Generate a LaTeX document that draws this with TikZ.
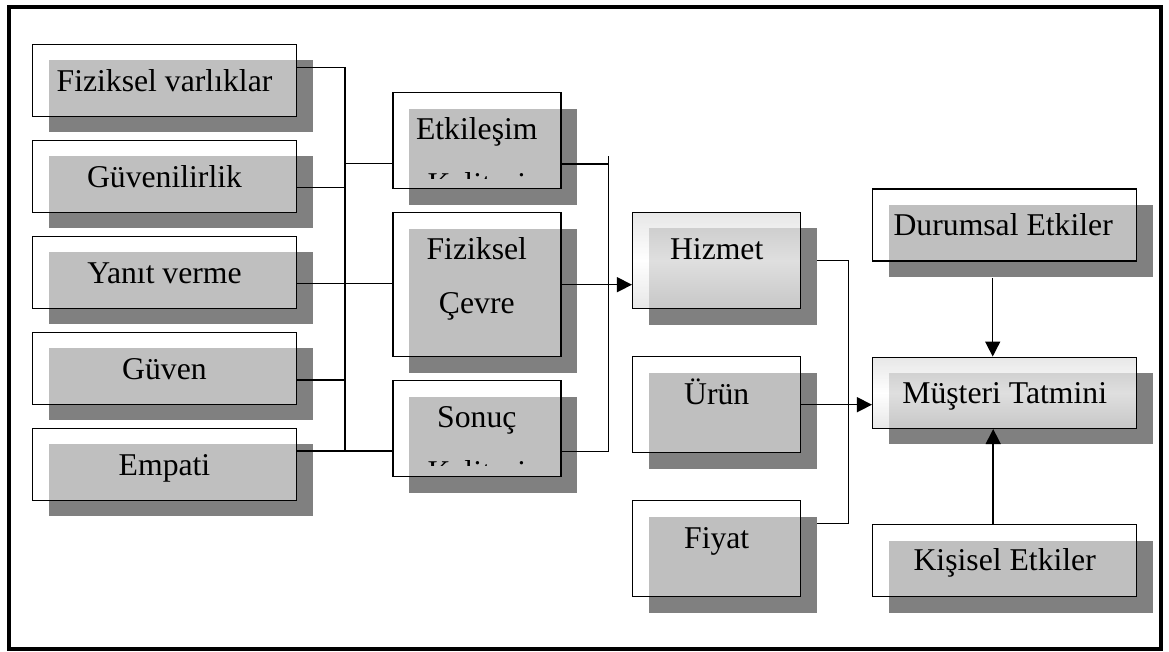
\documentclass[tikz,border=0pt]{standalone}
\usepackage{fontspec}
\setmainfont{Liberation Serif}
\usetikzlibrary{arrows.meta,shadows}
\definecolor{shadowgray}{RGB}{128,128,128}
\definecolor{gradedge}{RGB}{208,208,208}
\begin{document}
\begin{tikzpicture}[x=1pt,y=-1pt,
  box/.style={rectangle, draw=black, line width=1.5pt, fill=white, fill opacity=0.5,
    text opacity=1, inner sep=0pt,
    general shadow={fill=shadowgray, shadow xshift=16pt, shadow yshift=-16pt, opacity=1}},
  gradbox/.style={box, top color=gradedge, bottom color=gradedge, middle color=white},
  wide/.style={minimum width=264pt, minimum height=72pt},
  mid/.style={minimum width=168pt, minimum height=96pt},
  lbl/.style={anchor=base, inner sep=0pt, text=black, font=\fontsize{31.7}{36}\selectfont},
  conn/.style={line width=1.5pt},
  arr/.style={conn, -{Triangle[length=15pt,width=15pt]}}
]
\useasboundingbox (0,0) rectangle (1169,652);

% outer frame
\node[draw, line width=4pt, minimum width=1152pt, minimum height=642pt,
  inner sep=0pt, outer sep=0pt] (frame) at (585,328) {};

% service quality dimensions
\node[box, wide] (fv) at (164.5,80.3) {};
\node[box, wide] (gv) at (164.5,176.3) {};
\node[box, wide] (yv) at (164.5,272.3) {};
\node[box, wide] (gn) at (164.5,368.3) {};
\node[box, wide] (em) at (164.5,464.3) {};
\node[lbl] (fvt) at ([yshift=-48.4pt]fv.north) {Fiziksel varlıklar};
\node[lbl] (gvt) at ([yshift=-48.4pt]gv.north) {Güvenilirlik};
\node[lbl] (yvt) at ([yshift=-48.4pt]yv.north) {Yanıt verme};
\node[lbl] (gnt) at ([yshift=-48.4pt]gn.north) {Güven};
\node[lbl] (emt) at ([yshift=-48.4pt]em.north) {Empati};

% quality components
\node[box, mid] (ek) at (476.8,140.7) {};
\node[box, mid, minimum height=144pt] (fc) at (476.8,284.7) {};
\node[box, mid] (sn) at (476.8,428.7) {};
\node[lbl] (ekt) at ([yshift=-48pt]ek.north) {Etkileşim};
\begin{scope}
  \clip (ek.north west) rectangle ([yshift=-86.3pt]ek.north east);
  \node[lbl] (ekt2) at ([yshift=-102.9pt]ek.north) {Kalitesi};
\end{scope}
\node[lbl] (fct) at ([yshift=-47.6pt]fc.north) {Fiziksel};
\node[lbl] (fct2) at ([yshift=-102pt]fc.north) {Çevre};
\node[lbl] (snt) at ([yshift=-47.6pt]sn.north) {Sonuç};
\begin{scope}
  \clip (sn.north west) rectangle ([yshift=-86pt]sn.north east);
  \node[lbl] (snt2) at ([yshift=-102.2pt]sn.north) {Kalitesi};
\end{scope}

% service, product, price
\node[gradbox, mid] (hz) at (716.7,260.5) {};
\node[box, mid] (ur) at (716.7,404.7) {};
\node[box, mid] (fy) at (716.7,548.7) {};
\node[lbl] (hzt) at ([yshift=-47.4pt]hz.north) {Hizmet};
\node[lbl] (urt) at ([yshift=-48.3pt]ur.north) {Ürün};
\node[lbl] (fyt) at ([yshift=-48.3pt]fy.north) {Fiyat};

% satisfaction and its influences
\node[box, wide] (du) at (1004.7,225) {};
\node[gradbox, wide, minimum height=71pt] (mt) at (1004.7,392.8) {};
\node[box, wide] (ke) at (1004.7,560.7) {};
\node[lbl] (dut) at ([yshift=-47.7pt,xshift=-1.5pt]du.north) {Durumsal Etkiler};
\node[lbl] (mtt) at ([yshift=-47pt]mt.north) {Müşteri Tatmini};
\node[lbl] (ket) at ([yshift=-47pt]ke.north) {Kişisel Etkiler};

% left bus
\coordinate (busL) at (345,0);
\coordinate (p1) at ([yshift=-24pt]fv.north east);
\coordinate (p2) at ([yshift=-48pt]gv.north east);
\coordinate (p3) at ([yshift=-48pt]yv.north east);
\coordinate (p4) at ([yshift=-48.4pt]gn.north east);
\coordinate (p5) at ([yshift=-23.4pt]em.north east);
\coordinate (ekin) at ([yshift=-71.6pt]ek.north west);
\draw[conn] (p1) -- (p1 -| busL) -- (p5 -| busL);
\draw[conn] (p2) -- (p2 -| busL);
\draw[conn] (p4) -- (p4 -| busL);
\draw[conn] (p3) -- (p3 -| fc.west);
\draw[conn] (p5) -- (p5 -| sn.west);
\draw[conn] (ekin -| busL) -- (ekin);

% middle bus
\coordinate (busM) at (608.7,0);
\coordinate (busMtop) at (608.7,156);
\coordinate (ekout) at ([yshift=-72pt]ek.north east);
\coordinate (snout) at ([yshift=-71.5pt]sn.north east);
\draw[conn] (ekout) -- (ekout -| busM);
\draw[conn] (snout) -- (snout -| busM) -- (busMtop);
\draw[arr] (fc.east) -- (fc.east -| hz.west);

% right bracket and arrows
\coordinate (rb) at (848.7,0);
\coordinate (hzo) at ([xshift=16pt]hz.east);
\coordinate (fyo) at ([xshift=16pt,yshift=-23.3pt]fy.north east);
\draw[conn] (hzo) -- (hzo -| rb) -- (fyo -| rb) -- (fyo);
\draw[arr] (ur.east) -- (ur.east -| mt.west);
\draw[arr] ([xshift=-12pt,yshift=-16pt]du.south) -- ([xshift=-12pt]mt.north);
\draw[arr] ([xshift=-11.5pt]ke.north) -- ([xshift=-11.5pt]mt.south);
\end{tikzpicture}
\end{document}
